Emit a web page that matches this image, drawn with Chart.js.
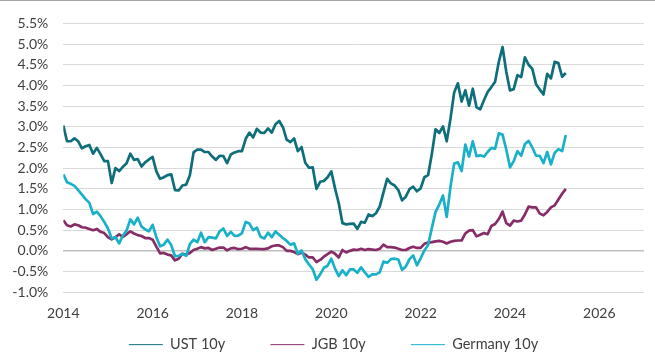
<!DOCTYPE html>
<html><head><meta charset="utf-8">
<script src="https://cdn.jsdelivr.net/npm/chart.js@4"></script>
<style>
html,body{margin:0;padding:0;background:#fff;}
#wrap{position:relative;width:655px;height:357px;}
#topline{position:absolute;left:0;top:0;width:655px;height:1px;background:#a6a6a6;}
canvas{display:block;}
</style></head><body>
<div id="wrap"><canvas id="c" width="655" height="357"></canvas><div id="topline"></div></div>
<script>
// Monthly month-end 10y yields, Dec 2013 .. Mar 2025 (first point plotted at 2014.0)
const firstYear = 2014;
const seriesNames = ['UST 10y', 'JGB 10y', 'Germany 10y'];
const ust = [3.03, 2.65, 2.65, 2.72, 2.65, 2.48, 2.53, 2.56, 2.35, 2.49, 2.34, 2.17, 2.17,
 1.64, 2.00, 1.93, 2.03, 2.12, 2.35, 2.20, 2.22, 2.04, 2.14, 2.21, 2.27,
 1.92, 1.74, 1.78, 1.83, 1.85, 1.47, 1.46, 1.58, 1.60, 1.83, 2.38, 2.45,
 2.45, 2.39, 2.39, 2.28, 2.20, 2.30, 2.29, 2.12, 2.33, 2.38, 2.41, 2.41,
 2.71, 2.86, 2.74, 2.95, 2.86, 2.85, 2.96, 2.86, 3.06, 3.14, 2.99, 2.69,
 2.63, 2.72, 2.41, 2.51, 2.13, 2.01, 2.02, 1.50, 1.67, 1.69, 1.78, 1.92,
 1.51, 1.15, 0.67, 0.64, 0.65, 0.66, 0.53, 0.70, 0.68, 0.88, 0.84, 0.91,
 1.07, 1.41, 1.74, 1.63, 1.58, 1.47, 1.22, 1.31, 1.49, 1.55, 1.44, 1.51,
 1.78, 1.83, 2.34, 2.94, 2.85, 3.01, 2.65, 3.19, 3.83, 4.05, 3.61, 3.88,
 3.51, 3.92, 3.47, 3.42, 3.64, 3.84, 3.96, 4.09, 4.57, 4.93, 4.33, 3.88,
 3.91, 4.25, 4.20, 4.68, 4.50, 4.40, 4.03, 3.90, 3.78, 4.28, 4.17, 4.57,
 4.54, 4.21, 4.30];
const jgb = [0.74, 0.62, 0.59, 0.64, 0.62, 0.57, 0.56, 0.53, 0.50, 0.53, 0.46, 0.43, 0.33,
 0.28, 0.33, 0.40, 0.34, 0.40, 0.47, 0.42, 0.38, 0.36, 0.31, 0.31, 0.27,
 0.10, -0.06, -0.05, -0.09, -0.11, -0.23, -0.19, -0.07, -0.09, -0.05, 0.02, 0.05,
 0.09, 0.06, 0.07, 0.02, 0.05, 0.08, 0.08, 0.01, 0.06, 0.07, 0.04, 0.05,
 0.09, 0.05, 0.05, 0.05, 0.04, 0.04, 0.06, 0.11, 0.13, 0.13, 0.09, 0.00,
 0.00, -0.03, -0.08, -0.04, -0.09, -0.16, -0.16, -0.27, -0.22, -0.14, -0.08, -0.02,
 -0.07, -0.16, 0.02, -0.04, 0.00, 0.03, 0.02, 0.05, 0.02, 0.04, 0.03, 0.02,
 0.05, 0.15, 0.09, 0.09, 0.08, 0.05, 0.02, 0.02, 0.07, 0.10, 0.07, 0.07,
 0.17, 0.20, 0.21, 0.23, 0.24, 0.22, 0.18, 0.22, 0.24, 0.25, 0.25, 0.42,
 0.49, 0.50, 0.35, 0.39, 0.43, 0.40, 0.60, 0.65, 0.77, 0.95, 0.67, 0.61,
 0.73, 0.71, 0.73, 0.88, 1.07, 1.05, 1.05, 0.90, 0.86, 0.94, 1.05, 1.10,
 1.24, 1.38, 1.50];
const germany = [1.85, 1.66, 1.62, 1.57, 1.47, 1.36, 1.25, 1.16, 0.89, 0.95, 0.84, 0.70, 0.54,
 0.30, 0.33, 0.18, 0.37, 0.49, 0.76, 0.64, 0.80, 0.59, 0.52, 0.47, 0.63,
 0.33, 0.11, 0.15, 0.27, 0.14, -0.13, -0.12, -0.07, -0.12, 0.16, 0.27, 0.21,
 0.44, 0.21, 0.33, 0.32, 0.30, 0.47, 0.54, 0.36, 0.46, 0.36, 0.37, 0.43,
 0.70, 0.66, 0.50, 0.56, 0.34, 0.30, 0.44, 0.33, 0.47, 0.39, 0.31, 0.24,
 0.15, 0.18, -0.07, 0.01, -0.20, -0.33, -0.44, -0.70, -0.57, -0.41, -0.36, -0.19,
 -0.43, -0.61, -0.47, -0.59, -0.45, -0.45, -0.53, -0.40, -0.52, -0.63, -0.57, -0.57,
 -0.52, -0.26, -0.29, -0.20, -0.19, -0.21, -0.46, -0.38, -0.20, -0.11, -0.35, -0.18,
 0.01, 0.14, 0.55, 0.94, 1.12, 1.34, 0.82, 1.54, 2.11, 2.14, 1.93, 2.57,
 2.28, 2.65, 2.29, 2.31, 2.28, 2.39, 2.49, 2.47, 2.84, 2.81, 2.45, 2.02,
 2.17, 2.41, 2.30, 2.58, 2.66, 2.50, 2.30, 2.30, 2.12, 2.39, 2.09, 2.37,
 2.46, 2.41, 2.80];
const xTickYears = [2014, 2016, 2018, 2020, 2022, 2024, 2026];
const yTickValues = [-1, -0.5, 0, 0.5, 1, 1.5, 2, 2.5, 3, 3.5, 4, 4.5, 5, 5.5];
const colors = ['#0E6F7B', '#862D68', '#19B1C8'];

const toPoints = arr => arr.map((v, i) => ({x: firstYear + i / 12, y: v}));
const FONT = 'Lato';
const TXT = '#404040';
const noLabelClip = s => { s._computeLabelArea = () => undefined; };

new Chart(document.getElementById('c'), {
  type: 'line',
  data: {
    datasets: [
      {label: seriesNames[0], data: toPoints(ust), borderColor: colors[0], backgroundColor: colors[0], order: 2},
      {label: seriesNames[1], data: toPoints(jgb), borderColor: colors[1], backgroundColor: colors[1], order: 1},
      {label: seriesNames[2], data: toPoints(germany), borderColor: colors[2], backgroundColor: colors[2], order: 0}
    ]
  },
  options: {
    responsive: false,
    animation: false,
    devicePixelRatio: 1,
    elements: {
      line: {borderWidth: 2.7, tension: 0, fill: false, borderJoinStyle: 'round'},
      point: {radius: 0, hoverRadius: 0}
    },
    layout: {padding: {left: 23, right: 11, top: 22, bottom: 0}},
    plugins: {
      tooltip: {enabled: false},
      legend: {
        position: 'bottom',
        maxHeight: 64.8,
        labels: {
          usePointStyle: true,
          pointStyle: 'line',
          pointStyleWidth: 34,
          boxHeight: 14.5,
          padding: 45.2,
          color: TXT,
          font: {family: FONT, size: 14.5},
          sort: (a, b) => a.datasetIndex - b.datasetIndex
        }
      }
    },
    scales: {
      x: {
        type: 'linear',
        min: 2014,
        max: 2027,
        afterFit: s => { s.height = 0; noLabelClip(s); },
        afterBuildTicks: s => { s.ticks = xTickYears.map(v => ({value: v})); },
        grid: {display: false, drawTicks: false},
        border: {display: false},
        ticks: {
          padding: 13,
          color: TXT,
          font: {family: FONT, size: 14},
          maxRotation: 0,
          autoSkip: false,
          callback: v => String(v)
        }
      },
      y: {
        min: -1,
        max: 5.5,
        afterFit: s => { s.width = 40.3; noLabelClip(s); },
        afterBuildTicks: s => { s.ticks = yTickValues.map(v => ({value: v})); },
        grid: {
          drawTicks: false,
          color: c => (c.tick && c.tick.value === 0) ? '#BFBFBF' : '#D9D9D9',
          lineWidth: c => (c.tick && c.tick.value === 0) ? 1.5 : 1
        },
        border: {display: false},
        ticks: {
          padding: 15,
          color: TXT,
          font: {family: FONT, size: 14},
          callback: v => v.toFixed(1) + '%'
        }
      }
    }
  }
});
</script>
</body></html>
